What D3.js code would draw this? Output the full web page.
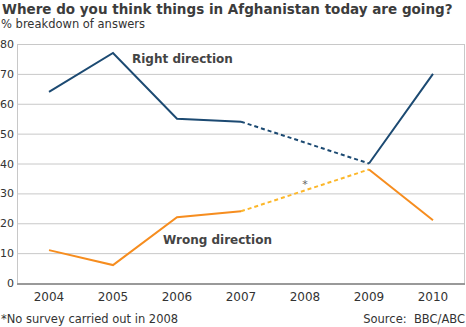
<!DOCTYPE html>
<html>
<head>
<meta charset="utf-8">
<script src="https://cdn.jsdelivr.net/npm/d3@7"></script>
<style>
  body { margin: 0; background: #fff; }
  text { font-family: "DejaVu Sans", Verdana, sans-serif; }
</style>
</head>
<body>
<div id="wrapper"></div>
<script>
const width = 466
const height = 327

const years = ["2004", "2005", "2006", "2007", "2008", "2009", "2010"]
const rightDirection = [64, 77, 55, 54, null, 40, 70]
const wrongDirection = [11, 6, 22, 24, null, 38, 21]
const yTicks = [0, 10, 20, 30, 40, 50, 60, 70, 80]

const margin = { top: 44, right: 1, bottom: 44, left: 17 }

const svg = d3.select("#wrapper").append("svg")
    .attr("width", width)
    .attr("height", height)

const x = d3.scalePoint()
    .domain(years)
    .range([margin.left, width - margin.right])
    .padding(0.5)

const y = d3.scaleLinear()
    .domain([0, 80])
    .range([height - margin.bottom, margin.top])

// title
svg.append("text")
    .attr("x", 2).attr("y", 14)
    .attr("font-size", 13.5).attr("font-weight", "bold").attr("fill", "#3c3c3c")
    .text("Where do you think things in Afghanistan today are going?")
svg.append("text")
    .attr("x", 1).attr("y", 28)
    .attr("font-size", 11.5).attr("fill", "#333")
    .text("% breakdown of answers")

// grid
svg.append("g")
    .selectAll("line")
    .data(yTicks.slice(1))
    .join("line")
    .attr("x1", margin.left).attr("x2", width - margin.right)
    .attr("y1", d => y(d) + 0.5).attr("y2", d => y(d) + 0.5)
    .attr("stroke", "#c8c8c8")

// frame sides
svg.append("line")
    .attr("x1", margin.left + 0.5).attr("x2", margin.left + 0.5)
    .attr("y1", y(80)).attr("y2", y(0))
    .attr("stroke", "#c8c8c8")
svg.append("line")
    .attr("x1", width - margin.right - 0.5).attr("x2", width - margin.right - 0.5)
    .attr("y1", y(80)).attr("y2", y(0))
    .attr("stroke", "#c8c8c8")

// y tick labels
svg.append("g")
    .selectAll("text")
    .data(yTicks)
    .join("text")
    .attr("x", 14).attr("y", d => y(d) + 4)
    .attr("text-anchor", "end")
    .attr("font-size", 11).attr("fill", "#333")
    .text(d => d)

// x axis
svg.append("line")
    .attr("x1", margin.left).attr("x2", width - margin.right)
    .attr("y1", y(0) + 1).attr("y2", y(0) + 1)
    .attr("stroke", "#999").attr("stroke-width", 2)

svg.append("g")
    .selectAll("text")
    .data(years)
    .join("text")
    .attr("x", d => x(d)).attr("y", 301)
    .attr("text-anchor", "middle")
    .attr("font-size", 12).attr("fill", "#333")
    .text(d => d)

function drawSeries(values, color, dashColor) {
    const pts = years.map((yr, i) => ({ yr, v: values[i] }))
    const line = d3.line()
        .defined(d => d.v != null)
        .x(d => x(d.yr))
        .y(d => y(d.v))
    // dashed bridge over the missing year
    const known = pts.filter(d => d.v != null)
    svg.append("path")
        .attr("d", line(known.filter(d => d.yr == "2007" || d.yr == "2009")))
        .attr("fill", "none")
        .attr("stroke", dashColor)
        .attr("stroke-width", 2)
        .attr("stroke-dasharray", "4,3")
    svg.append("path")
        .attr("d", line(pts))
        .attr("fill", "none")
        .attr("stroke", color)
        .attr("stroke-width", 2)
}

drawSeries(rightDirection, "#1c4a72", "#1c4a72")
drawSeries(wrongDirection, "#f68d1f", "#fcb72a")

// series labels
svg.append("text")
    .attr("x", 132).attr("y", 63)
    .attr("font-size", 12).attr("font-weight", "bold").attr("fill", "#444")
    .text("Right direction")
svg.append("text")
    .attr("x", 163).attr("y", 244)
    .attr("font-size", 12).attr("font-weight", "bold").attr("fill", "#444")
    .text("Wrong direction")

svg.append("text")
    .attr("x", x("2008")).attr("y", 188)
    .attr("text-anchor", "middle")
    .attr("font-size", 11).attr("fill", "#666")
    .text("*")

// footer
svg.append("text")
    .attr("x", 1).attr("y", 323)
    .attr("font-size", 11.5).attr("fill", "#333")
    .text("*No survey carried out in 2008")
svg.append("text")
    .attr("x", 465).attr("y", 323)
    .attr("text-anchor", "end")
    .attr("font-size", 11.5).attr("fill", "#333")
    .attr("xml:space", "preserve")
    .text("Source:  BBC/ABC")
</script>
</body>
</html>
